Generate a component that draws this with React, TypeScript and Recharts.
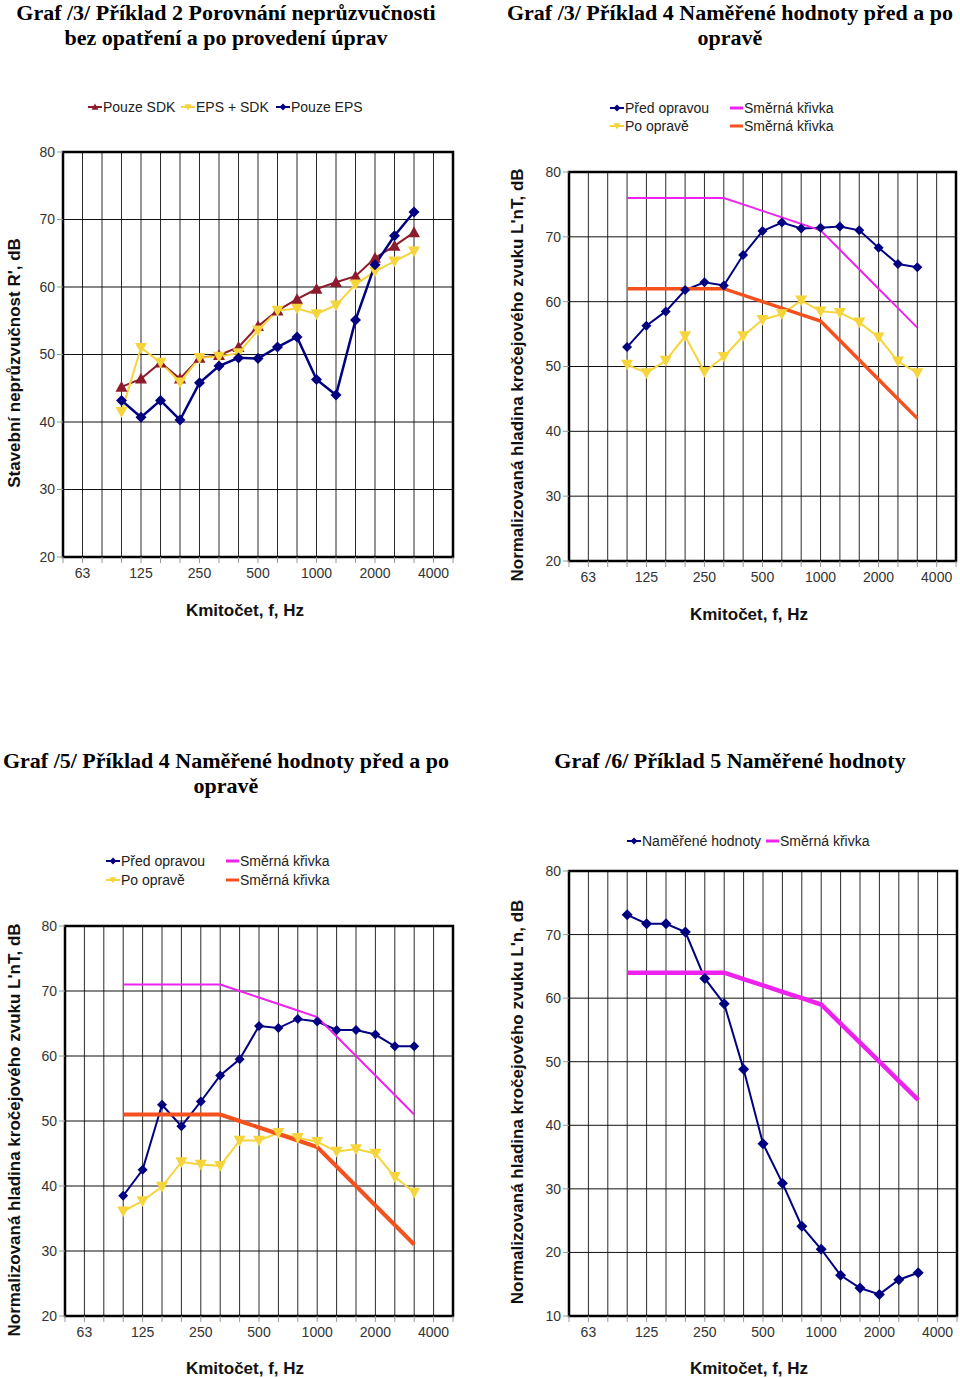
import { LineChart, Line, XAxis, YAxis, CartesianGrid, ReferenceArea } from 'recharts'

// 1/3-octave bands on the x axis, labels only on octaves
const FREQS = ['50', '63', '80', '100', '125', '160', '200', '250', '315', '400', '500', '630', '800', '1000', '1250', '1600', '2000', '2500', '3150', '4000', '5000']
const OCTAVE_LABELS = ['63', '125', '250', '500', '1000', '2000', '4000']
const FIRST_BAND = '100' // measured values run 100 .. 3150 Hz

const Y_TICKS_20 = [20, 30, 40, 50, 60, 70, 80]
const Y_TICKS_10 = [10, 20, 30, 40, 50, 60, 70, 80]

// Graf 3 – příklad 2
const POUZE_SDK = [45.2, 46.4, 48.8, 46.4, 49.5, 49.9, 51.1, 54.2, 56.5, 58.2, 59.7, 60.7, 61.6, 64.3, 66.1, 68.1]
const EPS_SDK = [41.5, 51.0, 48.8, 45.9, 49.5, 49.7, 50.2, 53.6, 56.5, 56.8, 56.0, 57.3, 60.4, 62.3, 63.8, 65.3]
const POUZE_EPS = [43.2, 40.7, 43.2, 40.3, 45.8, 48.3, 49.5, 49.4, 51.1, 52.6, 46.3, 44.0, 55.1, 63.3, 67.6, 71.1]

// Graf 3 – příklad 4
const PRED_4A = [53.0, 56.3, 58.5, 61.8, 63.0, 62.5, 67.2, 70.9, 72.2, 71.3, 71.4, 71.6, 71.0, 68.3, 65.8, 65.3]
const PO_4A = [50.3, 49.0, 50.9, 54.7, 49.2, 51.5, 54.7, 57.2, 58.1, 60.2, 58.5, 58.3, 56.8, 54.5, 50.8, 49.0]
const SMER_4A_PRED = [76, 76, 76, 76, 76, 76, 75, 74, 73, 72, 71, 68, 65, 62, 59, 56]
const SMER_4A_PO = [62, 62, 62, 62, 62, 62, 61, 60, 59, 58, 57, 54, 51, 48, 45, 42]

// Graf 5 – příklad 4
const PRED_4B = [38.5, 42.5, 52.5, 49.2, 53.0, 57.0, 59.5, 64.6, 64.3, 65.7, 65.3, 64.0, 64.0, 63.3, 61.5, 61.5]
const PO_4B = [36.1, 37.7, 39.9, 43.7, 43.3, 43.1, 47.0, 47.0, 48.2, 47.4, 46.8, 45.3, 45.7, 45.0, 41.4, 39.0]
const SMER_4B_PRED = [71, 71, 71, 71, 71, 71, 70, 69, 68, 67, 66, 63, 60, 57, 54, 51]
const SMER_4B_PO = [51, 51, 51, 51, 51, 51, 50, 49, 48, 47, 46, 43, 40, 37, 34, 31]

// Graf 6 – příklad 5
const NAMERENE_5 = [73.1, 71.7, 71.7, 70.4, 63.1, 59.1, 48.8, 37.1, 30.9, 24.1, 20.5, 16.4, 14.4, 13.4, 15.7, 16.8]
const SMER_5 = [64, 64, 64, 64, 64, 64, 63, 62, 61, 60, 59, 56, 53, 50, 47, 44]

const NAVY = '#000080'
const MAROON = '#8c1c2c'
const YELLOW = '#f6d43c'
const MAGENTA = '#ee22ee'
const ORANGE = '#f4511e'

const SANS = '"Liberation Sans", Arial, sans-serif'
const SERIF = '"Liberation Serif", "Times New Roman", serif'

type MarkerKind = 'diamond' | 'up' | 'down' | 'none'

interface SeriesDef {
  name: string
  values: number[]
  color: string
  width: number
  marker: MarkerKind
  size?: number
}

interface PanelDef {
  title: string[]
  titleX: number
  titleY: number
  box: { x: number; y: number; w: number; h: number }
  plot: { l: number; t: number; r: number; b: number }
  yTicks: number[]
  yLabel: string
  yLabelAt: [number, number]
  xLabelAt: [number, number]
  series: SeriesDef[]
  legend: { s: number; x: number; y: number }[]
}

function MarkerShape({ kind, x, y, r, color }: { kind: MarkerKind; x: number; y: number; r: number; color: string }) {
  if (kind === 'diamond') {
    return <polygon points={`${x},${y - r} ${x + r},${y} ${x},${y + r} ${x - r},${y}`} fill={color} />
  }
  if (kind === 'up') {
    return <polygon points={`${x},${y - r} ${x + r},${y + r * 0.8} ${x - r},${y + r * 0.8}`} fill={color} />
  }
  if (kind === 'down') {
    return <polygon points={`${x},${y + r} ${x + r},${y - r * 0.8} ${x - r},${y - r * 0.8}`} fill={color} />
  }
  return null
}

function buildRows(series: SeriesDef[]) {
  const first = FREQS.indexOf(FIRST_BAND)
  return FREQS.map((f, i) => {
    const row: Record<string, string | number | null> = { f }
    series.forEach((s, k) => {
      const v = s.values[i - first]
      row['s' + k] = v === undefined ? null : v
    })
    return row
  })
}

function Panel({ p }: { p: PanelDef }) {
  const { box, plot } = p
  const rows = buildRows(p.series)
  const xAxisH = 30
  const margin = {
    top: plot.t - box.y,
    right: box.x + box.w - plot.r,
    left: 0,
    bottom: box.y + box.h - plot.b - xAxisH,
  }
  const yMin = p.yTicks[0]
  const yMax = p.yTicks[p.yTicks.length - 1]
  const [ylx, yly] = [p.yLabelAt[0] - box.x, p.yLabelAt[1] - box.y]
  const [xlx, xly] = [p.xLabelAt[0] - box.x, p.xLabelAt[1] - box.y]

  return (
    <>
      <div
        style={{
          position: 'absolute',
          left: p.titleX - 240,
          top: p.titleY,
          width: 480,
          textAlign: 'center',
          fontFamily: SERIF,
          fontWeight: 'bold',
          fontSize: 22,
          lineHeight: '25px',
          color: '#000',
        }}
      >
        {p.title.map((t) => (
          <div key={t}>{t}</div>
        ))}
      </div>

      {p.legend.map((it) => {
        const s = p.series[it.s]
        const iconW = s.marker === 'none' ? 13 : 14
        return (
          <div
            key={it.s}
            style={{
              position: 'absolute',
              left: it.x,
              top: it.y - 9,
              height: 18,
              display: 'flex',
              alignItems: 'center',
              fontFamily: SANS,
              fontSize: 14,
              color: '#222',
              whiteSpace: 'nowrap',
            }}
          >
            <svg width={iconW} height={10} style={{ marginRight: 1 }}>
              <line x1={0} y1={5} x2={iconW} y2={5} stroke={s.color} strokeWidth={s.marker === 'none' ? 3 : 2} />
              <MarkerShape kind={s.marker} x={iconW / 2} y={5} r={3.5} color={s.color} />
            </svg>
            <span>{s.name}</span>
          </div>
        )
      })}

      <div style={{ position: 'absolute', left: box.x, top: box.y }}>
        <LineChart width={box.w} height={box.h} data={rows} margin={margin}>
          <CartesianGrid horizontal={false} stroke="#2a2a2a" strokeWidth={1} />
          <CartesianGrid vertical={false} stroke="#111" strokeWidth={1} />
          <XAxis
            dataKey="f"
            scale="point"
            interval={0}
            height={xAxisH}
            axisLine={false}
            tickSize={6}
            tickMargin={5}
            tickLine={{ stroke: '#999' }}
            tick={{ fontSize: 14, fill: '#333', fontFamily: SANS }}
            tickFormatter={(v: string) => (OCTAVE_LABELS.includes(v) ? v : '')}
            label={() => (
              <text x={xlx} y={xly} textAnchor="middle" dominantBaseline="central" fontFamily={SANS} fontWeight="bold" fontSize={17} fill="#111">
                Kmitočet, f, Hz
              </text>
            )}
          />
          <YAxis
            type="number"
            width={plot.l - box.x}
            domain={[yMin, yMax]}
            ticks={p.yTicks}
            interval={0}
            axisLine={false}
            tickSize={6}
            tickLine={{ stroke: '#999' }}
            tick={{ fontSize: 14, fill: '#333', fontFamily: SANS }}
            label={() => (
              <text
                x={ylx}
                y={yly}
                transform={`rotate(-90 ${ylx} ${yly})`}
                textAnchor="middle"
                dominantBaseline="central"
                fontFamily={SANS}
                fontWeight="bold"
                fontSize={17}
                fill="#111"
              >
                {p.yLabel}
              </text>
            )}
          />
          <ReferenceArea x1={FREQS[0]} x2={FREQS[FREQS.length - 1]} y1={yMin} y2={yMax} fill="none" stroke="#000" strokeWidth={2.5} />
          {p.series.map((s, k) => (
            <Line
              key={k}
              type="linear"
              dataKey={'s' + k}
              name={s.name}
              stroke={s.color}
              strokeWidth={s.width}
              isAnimationActive={false}
              activeDot={false}
              dot={
                s.marker === 'none'
                  ? false
                  : (props: any) => {
                      const { cx, cy, index } = props
                      if (cx == null || cy == null) return <g key={index} />
                      return (
                        <g key={index}>
                          <MarkerShape kind={s.marker} x={cx} y={cy} r={s.size ?? 5} color={s.color} />
                        </g>
                      )
                    }
              }
            />
          ))}
        </LineChart>
      </div>
    </>
  )
}

const PANELS: PanelDef[] = [
  {
    title: ['Graf /3/ Příklad 2 Porovnání neprůzvučnosti', 'bez opatření a po provedení úprav'],
    titleX: 226,
    titleY: 0,
    box: { x: 0, y: 60, w: 470, h: 600 },
    plot: { l: 63, t: 152, r: 453, b: 557 },
    yTicks: Y_TICKS_20,
    yLabel: "Stavební neprůzvučnost R', dB",
    yLabelAt: [14, 363],
    xLabelAt: [245, 610],
    series: [
      { name: 'Pouze SDK', values: POUZE_SDK, color: MAROON, width: 2, marker: 'up', size: 6 },
      { name: 'EPS + SDK', values: EPS_SDK, color: YELLOW, width: 2, marker: 'down', size: 6 },
      { name: 'Pouze EPS', values: POUZE_EPS, color: NAVY, width: 2.5, marker: 'diamond', size: 5.5 },
    ],
    legend: [
      { s: 0, x: 88, y: 107 },
      { s: 1, x: 181, y: 107 },
      { s: 2, x: 276, y: 107 },
    ],
  },
  {
    title: ['Graf /3/ Příklad 4 Naměřené hodnoty před a po', 'opravě'],
    titleX: 730,
    titleY: 0,
    box: { x: 480, y: 60, w: 480, h: 600 },
    plot: { l: 569, t: 172, r: 956, b: 561 },
    yTicks: Y_TICKS_20,
    yLabel: "Normalizovaná hladina kročejového zvuku L'nT, dB",
    yLabelAt: [517, 375],
    xLabelAt: [749, 614],
    series: [
      { name: 'Před opravou', values: PRED_4A, color: NAVY, width: 2, marker: 'diamond', size: 5 },
      { name: 'Po opravě', values: PO_4A, color: YELLOW, width: 2, marker: 'down', size: 6 },
      { name: 'Směrná křivka', values: SMER_4A_PRED, color: MAGENTA, width: 2, marker: 'none' },
      { name: 'Směrná křivka', values: SMER_4A_PO, color: ORANGE, width: 3.5, marker: 'none' },
    ],
    legend: [
      { s: 0, x: 610, y: 108 },
      { s: 2, x: 730, y: 108 },
      { s: 1, x: 610, y: 126 },
      { s: 3, x: 730, y: 126 },
    ],
  },
  {
    title: ['Graf /5/ Příklad 4 Naměřené hodnoty před a po', 'opravě'],
    titleX: 226,
    titleY: 748,
    box: { x: 0, y: 820, w: 470, h: 558 },
    plot: { l: 65, t: 926, r: 453, b: 1316 },
    yTicks: Y_TICKS_20,
    yLabel: "Normalizovaná hladina kročejového zvuku L'nT, dB",
    yLabelAt: [14, 1130],
    xLabelAt: [245, 1368],
    series: [
      { name: 'Před opravou', values: PRED_4B, color: NAVY, width: 2, marker: 'diamond', size: 5 },
      { name: 'Po opravě', values: PO_4B, color: YELLOW, width: 2, marker: 'down', size: 6 },
      { name: 'Směrná křivka', values: SMER_4B_PRED, color: MAGENTA, width: 2, marker: 'none' },
      { name: 'Směrná křivka', values: SMER_4B_PO, color: ORANGE, width: 4, marker: 'none' },
    ],
    legend: [
      { s: 0, x: 106, y: 861 },
      { s: 2, x: 226, y: 861 },
      { s: 1, x: 106, y: 880 },
      { s: 3, x: 226, y: 880 },
    ],
  },
  {
    title: ['Graf /6/ Příklad 5 Naměřené hodnoty'],
    titleX: 730,
    titleY: 748,
    box: { x: 480, y: 820, w: 480, h: 558 },
    plot: { l: 569, t: 871, r: 957, b: 1316 },
    yTicks: Y_TICKS_10,
    yLabel: "Normalizovaná hladina kročejového zvuku L'n, dB",
    yLabelAt: [517, 1102],
    xLabelAt: [749, 1368],
    series: [
      { name: 'Naměřené hodnoty', values: NAMERENE_5, color: NAVY, width: 2, marker: 'diamond', size: 5.5 },
      { name: 'Směrná křivka', values: SMER_5, color: MAGENTA, width: 4.5, marker: 'none' },
    ],
    legend: [
      { s: 0, x: 627, y: 841 },
      { s: 1, x: 766, y: 841 },
    ],
  },
]

export default function App() {
  return (
    <div style={{ position: 'absolute', left: 0, top: 0, width: 960, height: 1378, background: '#fff', overflow: 'hidden' }}>
      {PANELS.map((p, i) => (
        <Panel key={i} p={p} />
      ))}
    </div>
  )
}
